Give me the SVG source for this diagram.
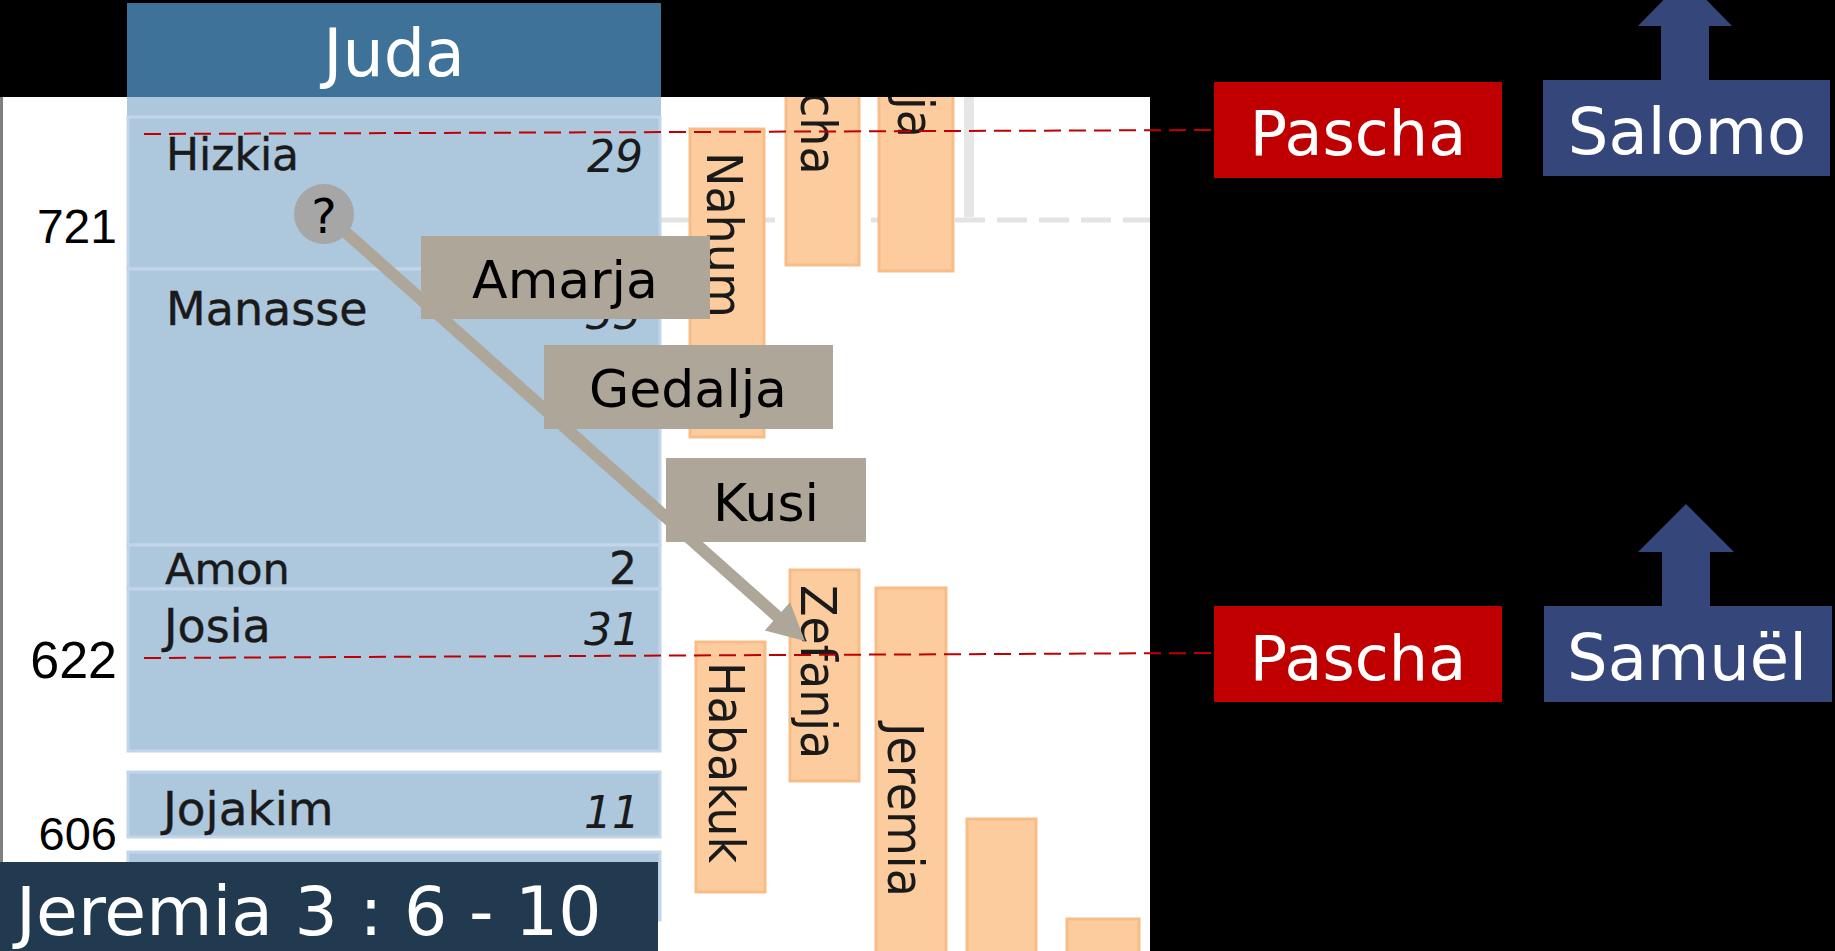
<svg xmlns="http://www.w3.org/2000/svg" width="1835" height="951" viewBox="0 0 1835 951">
<defs>
<style>
.row{fill:#adc7dd;stroke:#c3d5e8;stroke-width:3;}
.name{font-family:"DejaVu Sans",sans-serif;fill:#1a1a1a;stroke:#1a1a1a;stroke-width:0.4;}
.yrs{font-family:"DejaVu Sans",sans-serif;font-size:44px;fill:#1a1a1a;font-style:italic;text-anchor:end;}
.bar{fill:#fccc9e;stroke:#f8bd87;stroke-width:3;}
.bartxt{font-family:"DejaVu Sans",sans-serif;font-size:46px;fill:#1a1a1a;}
.lbl{fill:#ada699;}
.lbltxt{font-family:"DejaVu Sans",sans-serif;font-size:52px;fill:#000;text-anchor:middle;}
.year{font-family:"Liberation Sans",Arial,sans-serif;fill:#000;text-anchor:end;}
.wt{font-family:"DejaVu Sans",sans-serif;fill:#fff;text-anchor:middle;}
.redline{stroke:#c00000;stroke-width:2;stroke-dasharray:17 8;fill:none;}
.navy{fill:#35477a;}
.redbox{fill:#c00000;}
</style>
<clipPath id="panel"><rect x="0" y="97" width="1150" height="854"/></clipPath>
</defs>
<rect x="0" y="0" width="1835" height="951" fill="#000"/>
<g id="panel-bg">
<rect x="0" y="97" width="1150" height="854" fill="#fff"/>
<rect x="0" y="97" width="3" height="854" fill="#808080"/>
<line x1="661" y1="220" x2="1150" y2="220" stroke="#e3e3e3" stroke-width="5" stroke-dasharray="30 12"/>
<rect x="964" y="97" width="10" height="120" fill="#e6e6e6"/>
</g>
<g id="juda-column">
<rect x="127" y="97" width="534" height="655" fill="#adc7dd"/>
<rect class="row" x="128" y="117" width="532" height="152"/>
<rect class="row" x="128" y="269" width="532" height="276"/>
<rect class="row" x="128" y="545" width="532" height="44"/>
<rect class="row" x="128" y="589" width="532" height="162"/>
<rect class="row" x="128" y="772" width="532" height="65"/>
<rect class="row" x="128" y="852" width="532" height="68"/>
<text class="name" x="166" y="170" font-size="44">Hizkia</text>
<text class="yrs" x="643" y="172">29</text>
<text class="name" x="166" y="325" font-size="46">Manasse</text>
<text class="yrs" x="641" y="329">55</text>
<text class="name" x="165" y="584" font-size="43">Amon</text>
<text class="name" x="637" y="584" font-size="44" text-anchor="end">2</text>
<text class="name" x="164" y="642" font-size="46">Josia</text>
<text class="yrs" x="640" y="645">31</text>
<text class="name" x="163" y="825" font-size="47">Jojakim</text>
<text class="yrs" x="640" y="828">11</text>
</g>
<g id="juda-header">
<rect x="127" y="3" width="534" height="94" fill="#3f7298"/>
<text class="wt" x="394" y="76" font-size="65">Juda</text>
</g>
<g id="prophets" clip-path="url(#panel)">
<g id="nahum"><rect class="bar" x="690" y="129" width="74" height="308"/>
<text class="bartxt" transform="translate(707,152) scale(1.1,1) rotate(90)">Nahum</text></g>
<g id="micha"><rect class="bar" x="786" y="90" width="73" height="175"/>
<text class="bartxt" transform="translate(801,92) scale(1.1,1) rotate(90)">cha</text></g>
<g id="jesaja"><rect class="bar" x="879" y="90" width="74" height="181"/>
<text class="bartxt" transform="translate(898,97) scale(1.1,1) rotate(90)">ja</text></g>
<g id="zefanja"><rect class="bar" x="790" y="570" width="69" height="211"/>
<text class="bartxt" transform="translate(801,585) scale(1.1,1) rotate(90)">Zefanja</text></g>
<g id="habakuk"><rect class="bar" x="696" y="642" width="69" height="250"/>
<text class="bartxt" transform="translate(709,662) scale(1.1,1) rotate(90)">Habakuk</text></g>
<g id="jeremia-bar"><rect class="bar" x="876" y="588" width="70" height="380"/>
<text class="bartxt" transform="translate(888,723) scale(1.1,1) rotate(90)">Jeremia</text></g>
<g id="bar-5"><rect class="bar" x="967" y="819" width="69" height="150"/></g>
<g id="bar-6"><rect class="bar" x="1067" y="919" width="72" height="50"/></g>
</g>
<g id="connectors">
<line x1="324" y1="213" x2="778" y2="617" stroke="#ada699" stroke-width="12"/>
<polygon points="805,641 764.8,630.6 790,602.2" fill="#ada699"/>
</g>
<g id="amarja"><rect class="lbl" x="421" y="236" width="289" height="83"/><text class="lbltxt" x="565" y="298">Amarja</text></g>
<g id="gedalja"><rect class="lbl" x="544" y="345" width="289" height="84"/><text class="lbltxt" x="688" y="407">Gedalja</text></g>
<g id="kusi"><rect class="lbl" x="666" y="458" width="200" height="84"/><text class="lbltxt" x="766" y="521">Kusi</text></g>
<g id="question"><circle cx="324" cy="214" r="30" fill="#a6a6a6"/><text x="324" y="233" font-family="DejaVu Sans,sans-serif" font-size="48" text-anchor="middle" fill="#000">?</text></g>
<g id="red-lines">
<line class="redline" x1="144" y1="134" x2="1214" y2="130"/>
<line class="redline" x1="144" y1="658" x2="1214" y2="653"/>
</g>
<g id="pascha-1"><rect class="redbox" x="1214" y="82" width="288" height="96"/><text class="wt" x="1358" y="155" font-size="62">Pascha</text></g>
<g id="pascha-2"><rect class="redbox" x="1214" y="606" width="288" height="96"/><text class="wt" x="1358" y="680" font-size="62">Pascha</text></g>
<g id="salomo">
<polygon class="navy" points="1661,81 1661,26 1638,26 1685,-22 1732,26 1709,26 1709,81"/>
<rect class="navy" x="1543" y="80" width="287" height="96"/>
<text class="wt" x="1687" y="154" font-size="64">Salomo</text>
</g>
<g id="samuel">
<polygon class="navy" points="1662,607 1662,552 1638,552 1686,504 1734,552 1710,552 1710,607"/>
<rect class="navy" x="1544" y="606" width="288" height="96"/>
<text class="wt" x="1687" y="680" font-size="64">Samuël</text>
</g>
<g id="years">
<text class="year" x="117" y="243" font-size="48">721</text>
<text class="year" x="117" y="678" font-size="52">622</text>
<text class="year" x="117" y="850" font-size="47">606</text>
</g>
<g id="footer">
<rect x="0" y="862" width="658" height="89" fill="#213a4f"/>
<text x="16" y="935" font-family="DejaVu Sans,sans-serif" font-size="68" fill="#fff">Jeremia 3 : 6 - 10</text>
</g>
</svg>
